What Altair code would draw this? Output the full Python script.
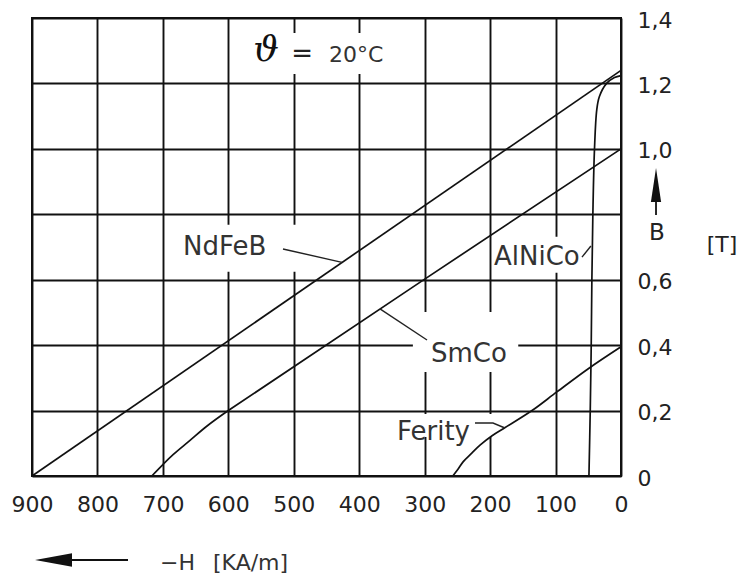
import altair as alt
import pandas as pd

# ---------------- data ----------------
series_names = ["NdFeB", "SmCo", "AlNiCo", "Ferity"]

ndfeb_H = [900, 0]
ndfeb_B = [0.0, 1.24]

smco_H = [717, 700, 684, 659, 633, 600, 0]
smco_B = [0.0, 0.035, 0.066, 0.108, 0.152, 0.2, 1.0]

alnico_H = [49, 47, 45.5, 44.5, 43, 40.5, 37, 33, 22, 10, 0]
alnico_B = [0.0, 0.2, 0.4, 0.6, 0.8, 1.0, 1.12, 1.16, 1.2, 1.218, 1.224]

ferit_H = [257, 250, 241, 228, 215, 197, 177, 136, 98, 50, 0]
ferit_B = [0.0, 0.018, 0.044, 0.07, 0.095, 0.123, 0.148, 0.2, 0.257, 0.328, 0.395]

x_ticks = [0, 100, 200, 300, 400, 500, 600, 700, 800, 900]
y_ticks = [0.0, 0.2, 0.4, 0.6, 0.8, 1.0, 1.2, 1.4]
y_tick_labels = ["0", "0,2", "0,4", "0,6", "", "1,0", "1,2", "1,4"]

temp_symbol = "ϑ"
temp_eq = "="
temp_value = "20°C"
x_title_a = "−H"
x_title_b = "[KA/m]"
y_title_a = "B"
y_title_b = "[T]"

# ---------------- tables ----------------
rows = []
for name, hs, bs in [("NdFeB", ndfeb_H, ndfeb_B), ("SmCo", smco_H, smco_B),
                     ("AlNiCo", alnico_H, alnico_B), ("Ferity", ferit_H, ferit_B)]:
    for i, (h, b) in enumerate(zip(hs, bs)):
        rows.append({"series": name, "i": i, "H": h, "B": b})
curves = pd.DataFrame(rows)

# white boxes behind labels (in data units)
boxes = pd.DataFrame([
    {"H": 582, "H2": 338, "B": 1.354, "B2": 1.229},   # theta
    {"H": 670, "H2": 493, "B": 0.768, "B2": 0.624},   # NdFeB
    {"H": 197, "H2": 55, "B": 0.731, "B2": 0.621},    # AlNiCo
    {"H": 318, "H2": 157, "B": 0.501, "B2": 0.318},   # SmCo
    {"H": 345, "H2": 191, "B": 0.1895, "B2": 0.119},  # Ferity
])

leaders = pd.DataFrame([
    {"id": "NdFeB", "i": 0, "H": 516.5, "B": 0.694},
    {"id": "NdFeB", "i": 1, "H": 426.3, "B": 0.653},
    {"id": "AlNiCo", "i": 0, "H": 59.6, "B": 0.669},
    {"id": "AlNiCo", "i": 1, "H": 46.0, "B": 0.703},
    {"id": "SmCo", "i": 0, "H": 368.3, "B": 0.511},
    {"id": "SmCo", "i": 1, "H": 296.4, "B": 0.4157},
    {"id": "Ferity", "i": 0, "H": 223.1, "B": 0.162},
    {"id": "Ferity", "i": 1, "H": 195.6, "B": 0.162},
    {"id": "Ferity", "i": 2, "H": 177.3, "B": 0.1467},
])

left_texts = pd.DataFrame([
    {"t": series_names[0], "H": 669.3, "B": 0.6755, "fs": 26},
    {"t": series_names[2], "H": 194.1, "B": 0.645, "fs": 26},
    {"t": series_names[1], "H": 290.3, "B": 0.3485, "fs": 26},
    {"t": series_names[3], "H": 342.3, "B": 0.110, "fs": 26},
    {"t": temp_value, "H": 446.0, "B": 1.2655, "fs": 22},
    {"t": x_title_a, "H": 704.4, "B": -0.2874, "fs": 22},
    {"t": x_title_b, "H": 623.4, "B": -0.2874, "fs": 22},
])

center_texts = pd.DataFrame([
    {"t": temp_eq, "H": 487.4, "B": 1.2655, "fs": 26},
    {"t": y_title_a, "H": -55.0, "B": 0.7214, "fs": 23},
    {"t": y_title_b, "H": -154.3, "B": 0.6847, "fs": 22},
])

symbol_text = pd.DataFrame([{"t": temp_symbol, "H": 542.4, "B": 1.268, "fs": 36}])

arrow_left_head = pd.DataFrame([{"H": 867.1, "B": -0.2568}])
arrow_up_head = pd.DataFrame([{"H": -53.5, "B": 0.8895}])
shafts = pd.DataFrame([
    {"id": "x", "i": 0, "H": 860.0, "B": -0.2568},
    {"id": "x", "i": 1, "H": 753.3, "B": -0.2568},
    {"id": "y", "i": 0, "H": -53.5, "B": 0.850},
    {"id": "y", "i": 1, "H": -53.5, "B": 0.7978},
])

# ---------------- scales / axes ----------------
label_expr = ""
for v, l in zip(y_ticks, y_tick_labels):
    label_expr += f"abs(datum.value - {v}) < 0.01 ? '{l}' : "
label_expr += "''"

xscale = alt.Scale(domain=[0, 900], reverse=True, nice=False, zero=False)
yscale = alt.Scale(domain=[0, 1.4], nice=False, zero=False)

xaxis = alt.Axis(values=x_ticks, grid=True, gridColor="#111", gridWidth=1.9, gridOpacity=1,
                 domain=False, ticks=False, labelFont="DejaVu Sans", labelFontSize=22,
                 labelColor="#222", labelPadding=18, labelFlush=False, labelOverlap=False,
                 labelBound=False, title=None, format="d")
yaxis = alt.Axis(orient="right", values=y_ticks, grid=True, gridColor="#111", gridWidth=1.9,
                 gridOpacity=1, domain=False, ticks=False, labelFont="DejaVu Sans",
                 labelFontSize=22, labelColor="#222", labelPadding=16, labelOffset=2,
                 labelAlign="left", labelBaseline="middle", labelFlush=False,
                 labelOverlap=False, labelBound=False, labelExpr=label_expr, title=None)


def X(field="H"):
    return alt.X(f"{field}:Q", scale=xscale, axis=xaxis)


def Y(field="B"):
    return alt.Y(f"{field}:Q", scale=yscale, axis=yaxis)


box_layer = alt.Chart(boxes).mark_rect(fill="white", stroke=None).encode(
    x=X("H"), x2="H2:Q", y=Y("B"), y2="B2:Q")

curve_layer = alt.Chart(curves).mark_line(color="#111", strokeWidth=1.7,
                                          interpolate="catmull-rom").encode(
    x=X(), y=Y(), detail="series:N", order="i:Q")

leader_layer = alt.Chart(leaders).mark_line(color="#222", strokeWidth=1.4).encode(
    x=X(), y=Y(), detail="id:N", order="i:Q")

text_left = alt.Chart(left_texts).mark_text(align="left", baseline="alphabetic",
                                            font="DejaVu Sans", color="#333").encode(
    x=X(), y=Y(), text="t:N", size=alt.Size("fs:Q", scale=None, legend=None))

text_center = alt.Chart(center_texts).mark_text(align="center", baseline="alphabetic",
                                                font="DejaVu Sans", color="#222").encode(
    x=X(), y=Y(), text="t:N", size=alt.Size("fs:Q", scale=None, legend=None))

text_symbol = alt.Chart(symbol_text).mark_text(align="center", baseline="alphabetic",
                                               font="DejaVu Serif", fontStyle="italic",
                                               color="#111").encode(
    x=X(), y=Y(), text="t:N", size=alt.Size("fs:Q", scale=None, legend=None))

shaft_layer = alt.Chart(shafts).mark_line(color="#111", strokeWidth=1.8).encode(
    x=X(), y=Y(), detail="id:N", order="i:Q")

head_left = alt.Chart(arrow_left_head).mark_point(
    shape="M -1 0 L 1 -0.36 L 1 0.36 Z", size=1369, filled=True, color="#111",
    opacity=1, strokeWidth=0).encode(x=X(), y=Y())

head_up = alt.Chart(arrow_up_head).mark_point(
    shape="M 0 -1 L 0.3 1 L -0.3 1 Z", size=1156, filled=True, color="#111",
    opacity=1, strokeWidth=0).encode(x=X(), y=Y())

chart = alt.layer(box_layer, curve_layer, leader_layer, shaft_layer, head_left, head_up,
                  text_left, text_center, text_symbol).properties(
    width=589, height=458,
    autosize=alt.AutoSizeParams(type="none"),
    padding={"left": 32, "top": 18, "right": 123, "bottom": 99},
    background="white",
).configure_view(stroke="#111", strokeWidth=2)

chart.save("out.html", embed_options={"renderer": "svg", "actions": False})
